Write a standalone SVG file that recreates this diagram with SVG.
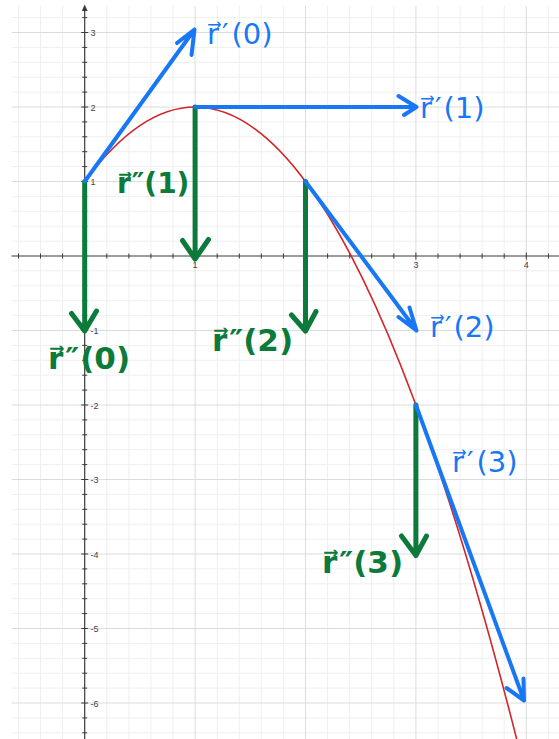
<svg xmlns="http://www.w3.org/2000/svg" width="559" height="739" viewBox="0 0 559 739">
<style>
.minor{stroke:#efefef;stroke-width:1;fill:none}
.major{stroke:#dcdcdc;stroke-width:1;fill:none}
.axis{stroke:#3a3a3a;stroke-width:1.2;fill:none}
.tick{stroke:#3a3a3a;stroke-width:1;fill:none}
.num{font-family:"Liberation Sans",Arial,sans-serif;font-size:9px;fill:#444}
.curve{stroke:#d0262a;stroke-width:1.6;fill:none}
.blue{stroke:#1877f5;stroke-width:4;fill:none;stroke-linecap:round;stroke-linejoin:round}
.green{stroke:#0b7a3b;stroke-width:5;fill:none;stroke-linecap:round;stroke-linejoin:round}
.lblue{font-family:"DejaVu Sans","Noto Sans",sans-serif;font-size:29px;fill:#1877f5}
.lgreen{font-family:"DejaVu Sans","Noto Sans",sans-serif;font-size:31px;font-weight:bold;fill:#0b7a3b}
</style>
<rect width="559" height="739" fill="#ffffff"/>
<g id="grid">
<path class="minor" d="M18.5,6V739M40.5,6V739M62.6,6V739M106.8,6V739M128.9,6V739M150.9,6V739M173,6V739M217.2,6V739M239.3,6V739M261.3,6V739M283.4,6V739M327.6,6V739M349.7,6V739M371.7,6V739M393.8,6V739M438,6V739M460.1,6V739M482.1,6V739M504.2,6V739M548.4,6V739"/>
<path class="minor" d="M11.5,17.6H559M11.5,47.4H559M11.5,62.3H559M11.5,77.2H559M11.5,92.1H559M11.5,121.9H559M11.5,136.8H559M11.5,151.7H559M11.5,166.6H559M11.5,196.4H559M11.5,211.3H559M11.5,226.2H559M11.5,241.1H559M11.5,270.9H559M11.5,285.8H559M11.5,300.7H559M11.5,315.6H559M11.5,345.4H559M11.5,360.3H559M11.5,375.2H559M11.5,390.1H559M11.5,419.9H559M11.5,434.8H559M11.5,449.7H559M11.5,464.6H559M11.5,494.4H559M11.5,509.3H559M11.5,524.2H559M11.5,539.1H559M11.5,568.9H559M11.5,583.8H559M11.5,598.7H559M11.5,613.6H559M11.5,643.4H559M11.5,658.3H559M11.5,673.2H559M11.5,688.1H559M11.5,717.9H559M11.5,732.8H559"/>
<path class="major" d="M195.1,6V739M305.5,6V739M415.9,6V739M526.3,6V739M11.5,32.5H559M11.5,107H559M11.5,181.5H559M11.5,330.5H559M11.5,405H559M11.5,479.5H559M11.5,554H559M11.5,628.5H559M11.5,703H559"/>
</g>
<g id="axes">
<path class="axis" d="M11.5,256H559M84.7,8V739"/>
<path d="M84.7,4.5L81.8,11L87.6,11Z" fill="#3a3a3a"/>
<path class="tick" d="M18.5,253.5V258.5M40.5,253.5V258.5M62.6,253.5V258.5M106.8,253.5V258.5M128.9,253.5V258.5M150.9,253.5V258.5M173,253.5V258.5M195.1,252.5V259.5M217.2,253.5V258.5M239.3,253.5V258.5M261.3,253.5V258.5M283.4,253.5V258.5M305.5,252.5V259.5M327.6,253.5V258.5M349.7,253.5V258.5M371.7,253.5V258.5M393.8,253.5V258.5M415.9,252.5V259.5M438,253.5V258.5M460.1,253.5V258.5M482.1,253.5V258.5M504.2,253.5V258.5M526.3,252.5V259.5M548.4,253.5V258.5"/>
<path class="tick" d="M82.2,17.6H87.2M81.2,32.5H88.2M82.2,47.4H87.2M82.2,62.3H87.2M82.2,77.2H87.2M82.2,92.1H87.2M81.2,107H88.2M82.2,121.9H87.2M82.2,136.8H87.2M82.2,151.7H87.2M82.2,166.6H87.2M81.2,181.5H88.2M82.2,196.4H87.2M82.2,211.3H87.2M82.2,226.2H87.2M82.2,241.1H87.2M82.2,270.9H87.2M82.2,285.8H87.2M82.2,300.7H87.2M82.2,315.6H87.2M81.2,330.5H88.2M82.2,345.4H87.2M82.2,360.3H87.2M82.2,375.2H87.2M82.2,390.1H87.2M81.2,405H88.2M82.2,419.9H87.2M82.2,434.8H87.2M82.2,449.7H87.2M82.2,464.6H87.2M81.2,479.5H88.2M82.2,494.4H87.2M82.2,509.3H87.2M82.2,524.2H87.2M82.2,539.1H87.2M81.2,554H88.2M82.2,568.9H87.2M82.2,583.8H87.2M82.2,598.7H87.2M82.2,613.6H87.2M81.2,628.5H88.2M82.2,643.4H87.2M82.2,658.3H87.2M82.2,673.2H87.2M82.2,688.1H87.2M81.2,703H88.2M82.2,717.9H87.2M82.2,732.8H87.2"/>
<text class="num" x="90.5" y="36">3</text>
<text class="num" x="90.5" y="110.5">2</text>
<text class="num" x="90.5" y="185">1</text>
<text class="num" x="90.5" y="334">-1</text>
<text class="num" x="90.5" y="408.5">-2</text>
<text class="num" x="90.5" y="483">-3</text>
<text class="num" x="90.5" y="557.5">-4</text>
<text class="num" x="90.5" y="632">-5</text>
<text class="num" x="90.5" y="706.5">-6</text>
<text class="num" x="195.1" y="267.5" text-anchor="middle">1</text>
<text class="num" x="415.9" y="267.5" text-anchor="middle">3</text>
<text class="num" x="526.3" y="267.5" text-anchor="middle">4</text>
</g>
<g id="curve">
<path class="curve" d="M84.7,181.5Q305.5,-116.5 526.3,777.5"/>
</g>
<g id="connectors">
<g id="second-derivatives">
<path class="green" d="M84.7,181.5V331M71.5,313.5L84.7,331L96.5,311"/>
<path class="green" d="M195.1,107V259M182.5,240.5L195.1,259L208.5,239.5"/>
<path class="green" d="M305.5,181.5V331M291.5,315L305.5,331L316,311.5"/>
<path class="green" d="M415.9,405V555.5M401.5,536L415.9,555.5L426.5,536"/>
</g>
<g id="first-derivatives">
<path class="blue" d="M84.7,181.5L194.5,29.5M177,43L194.5,29.5L191.5,55"/>
<path class="blue" d="M195.1,107H416.5M398.5,96L416.5,107L404,115"/>
<path class="blue" d="M305.5,181.5L416.5,330.5M398.5,317L416.5,330.5L409.5,307.5"/>
<path class="blue" d="M415.9,405L524,700.5M506.5,688L524,700.5L523.5,678.5"/>
</g>
</g>
<g id="labels">
<g id="label-r1-0"><text class="lblue" x="207" y="44">r⃗<tspan dx="3">′</tspan><tspan dx="3">(0)</tspan></text></g>
<g id="label-r1-1"><text class="lblue" x="420" y="118">r⃗<tspan dx="3">′</tspan><tspan dx="2">(1)</tspan></text></g>
<g id="label-r1-2"><text class="lblue" x="430" y="337">r⃗<tspan dx="3">′</tspan><tspan dx="2">(2)</tspan></text></g>
<g id="label-r1-3"><text class="lblue" x="452" y="472">r⃗<tspan dx="3">′</tspan><tspan dx="3">(3)</tspan></text></g>
<g id="label-r2-0"><text class="lgreen" x="48" y="369">r⃗<tspan dx="2">″</tspan><tspan dx="1">(0)</tspan></text></g>
<g id="label-r2-1"><text class="lgreen" x="117" y="193" style="font-size:28px">r⃗<tspan dx="1">″</tspan>(1)</text></g>
<g id="label-r2-2"><text class="lgreen" x="212" y="351">r⃗<tspan dx="2">″</tspan>(2)</text></g>
<g id="label-r2-3"><text class="lgreen" x="322" y="573">r⃗<tspan dx="2">″</tspan>(3)</text></g>
</g>
</svg>
